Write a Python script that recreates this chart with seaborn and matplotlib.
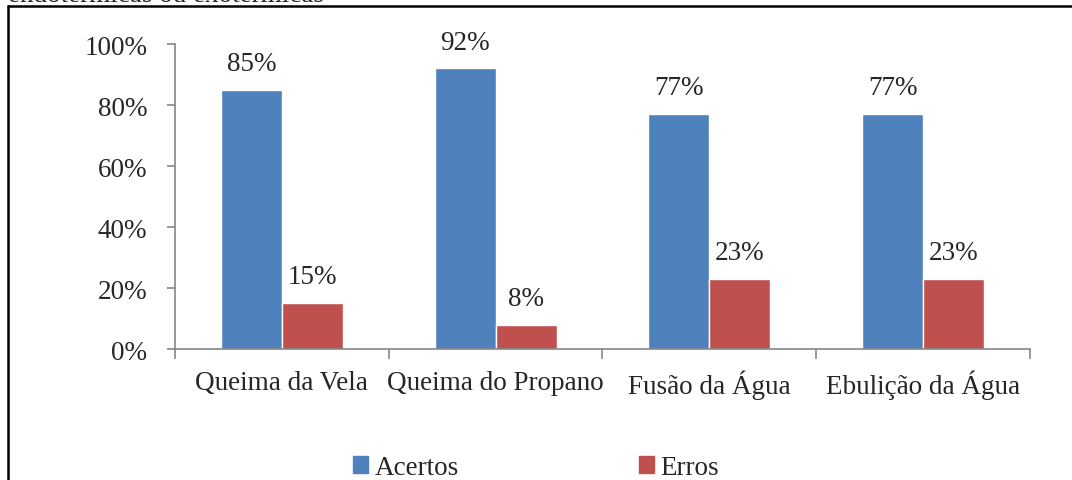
import numpy as np
import pandas as pd
import seaborn as sns
import matplotlib.pyplot as plt
from matplotlib.lines import Line2D
from matplotlib.ticker import PercentFormatter, FixedLocator

categorias = ["Queima da Vela", "Queima do Propano", "Fusão da Água", "Ebulição da Água"]
acertos = [0.85, 0.92, 0.77, 0.77]
erros = [0.15, 0.08, 0.23, 0.23]
series = ["Acertos", "Erros"]
cores = ["#4F81BD", "#C0504D"]

df = pd.DataFrame({
    "categoria": categorias * 2,
    "valor": acertos + erros,
    "serie": [series[0]] * 4 + [series[1]] * 4,
})

sns.set_style("white")
plt.rcParams["font.family"] = ["Liberation Serif", "DejaVu Serif"]

fig = plt.figure(figsize=(10.72, 4.81), dpi=100)
ax = fig.add_axes([0.1632, 0.2723, 0.7976, 0.6341])

sns.barplot(data=df, x="categoria", y="valor", hue="serie", palette=cores,
            width=0.57, gap=0, saturation=1, ax=ax, legend=False)

# rótulos de dados
for cont in ax.containers:
    ax.bar_label(cont, labels=[f"{v*100:.0f}%" for v in cont.datavalues],
                 padding=10, fontsize=19.5)

ax.set_ylim(0, 1.0)
ax.set_xlim(-0.5, 3.5)
ax.yaxis.set_major_formatter(PercentFormatter(1.0, decimals=0))
ax.set_yticks(np.arange(0, 1.01, 0.2))
ax.set_xlabel("")
ax.set_ylabel("")

grey = "#868686"
for s in ["top", "right"]:
    ax.spines[s].set_visible(False)
for s in ["left", "bottom"]:
    ax.spines[s].set_color(grey)
    ax.spines[s].set_linewidth(1.2)

ax.tick_params(axis="y", which="major", direction="out", length=6, width=1.2,
               color=grey, labelsize=19.5, pad=14, left=True)
ax.tick_params(axis="x", which="major", length=0, labelsize=19.5, pad=15)
ax.xaxis.set_minor_locator(FixedLocator([-0.5, 0.5, 1.5, 2.5, 3.5]))
ax.tick_params(axis="x", which="minor", direction="out", length=7, width=1.2,
               color=grey, bottom=True)

# legenda
handles = [plt.Rectangle((0, 0), 1, 1, color=c) for c in cores]
fig.legend(handles, series, loc="center", bbox_to_anchor=(0.5, 0.026),
           ncol=2, frameon=False, fontsize=19.5, handlelength=0.55,
           handleheight=0.55, handletextpad=0.25, columnspacing=6.65)

# moldura da página e texto cortado acima
fig.add_artist(Line2D([8 / 1072, 8 / 1072], [0, 1 - 7 / 481], color="black", lw=1.8))
fig.add_artist(Line2D([8 / 1072, 1.0], [1 - 7 / 481, 1 - 7 / 481], color="black", lw=1.8))
fig.text(8 / 1072, 1 + 5 / 481, "endotérmicas ou exotérmicas", fontsize=19.5,
         va="center", ha="left")

fig.savefig("out.png", dpi=100)
